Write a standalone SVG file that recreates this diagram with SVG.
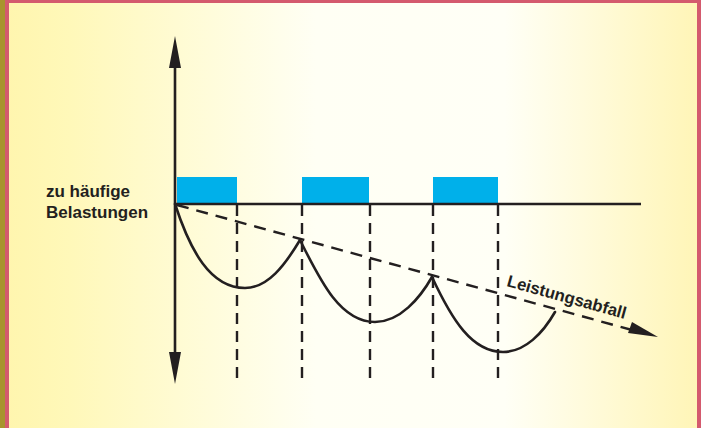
<svg xmlns="http://www.w3.org/2000/svg" width="701" height="428" viewBox="0 0 701 428">
<defs>
<linearGradient id="bg" x1="0" y1="0" x2="1" y2="0">
<stop offset="0" stop-color="#fff5ad"/>
<stop offset="0.1" stop-color="#fff8b9"/>
<stop offset="0.45" stop-color="#fffff4"/>
<stop offset="0.72" stop-color="#fffff6"/>
<stop offset="1" stop-color="#fff5b6"/>
</linearGradient>
<style>
.ax{stroke:#231f20;stroke-width:2.6;fill:none}
.dash{stroke:#231f20;stroke-width:2.4;fill:none;stroke-dasharray:11 7}
.curve{stroke:#231f20;stroke-width:2.6;fill:none;stroke-linecap:round}
.blk{fill:#231f20}
.bar{fill:#00b0ea}
.lbl{font-family:"Liberation Sans",Arial,sans-serif;font-weight:bold;fill:#231f20}
</style>
</defs>
<rect x="0" y="0" width="701" height="428" fill="url(#bg)"/>
<rect x="0" y="0" width="5" height="428" fill="#a8942e"/>
<rect x="5" y="0" width="4" height="428" fill="#d45a6e"/>
<rect x="5" y="0" width="696" height="3" fill="#d45a6e"/>
<rect x="697" y="0" width="4" height="428" fill="#d45a6e"/>
<g id="bars">
<rect class="bar" x="177" y="177" width="60" height="26"/>
<rect class="bar" x="302" y="177" width="67" height="26"/>
<rect class="bar" x="433" y="177" width="65" height="26"/>
</g>
<g id="connectors">
<line class="ax" x1="175" y1="62" x2="175" y2="358"/>
<polygon class="blk" points="175,36 181,68 169,68"/>
<polygon class="blk" points="175,384 181,352 169,352"/>
<line class="ax" x1="175" y1="204" x2="641" y2="204"/>
<line class="dash" x1="237" y1="205" x2="237" y2="385"/>
<line class="dash" x1="302" y1="205" x2="302" y2="385"/>
<line class="dash" x1="370" y1="205" x2="370" y2="385"/>
<line class="dash" x1="433" y1="205" x2="433" y2="385"/>
<line class="dash" x1="498" y1="205" x2="498" y2="385"/>
<line class="dash" style="stroke-dasharray:12 8" x1="177" y1="205" x2="632" y2="330"/>
<polygon class="blk" points="658,337 628,333 632,322"/>
<path class="curve" d="M175,204 C190,250 210,288 245,288 C268,288 285,265 300,240"/>
<path class="curve" d="M300,240 C320,280 340,322 375,322 C400,322 420,298 432,277"/>
<path class="curve" d="M432,277 C452,320 472,352 503,352 C525,352 543,333 555,312"/>
</g>
<g id="labels">
<text class="lbl" x="46" y="197" font-size="17">zu häufige</text>
<text class="lbl" x="46" y="218" font-size="17">Belastungen</text>
<text class="lbl" x="506" y="286" font-size="16.8" transform="rotate(15.5 506 286)">Leistungsabfall</text>
</g>
</svg>
